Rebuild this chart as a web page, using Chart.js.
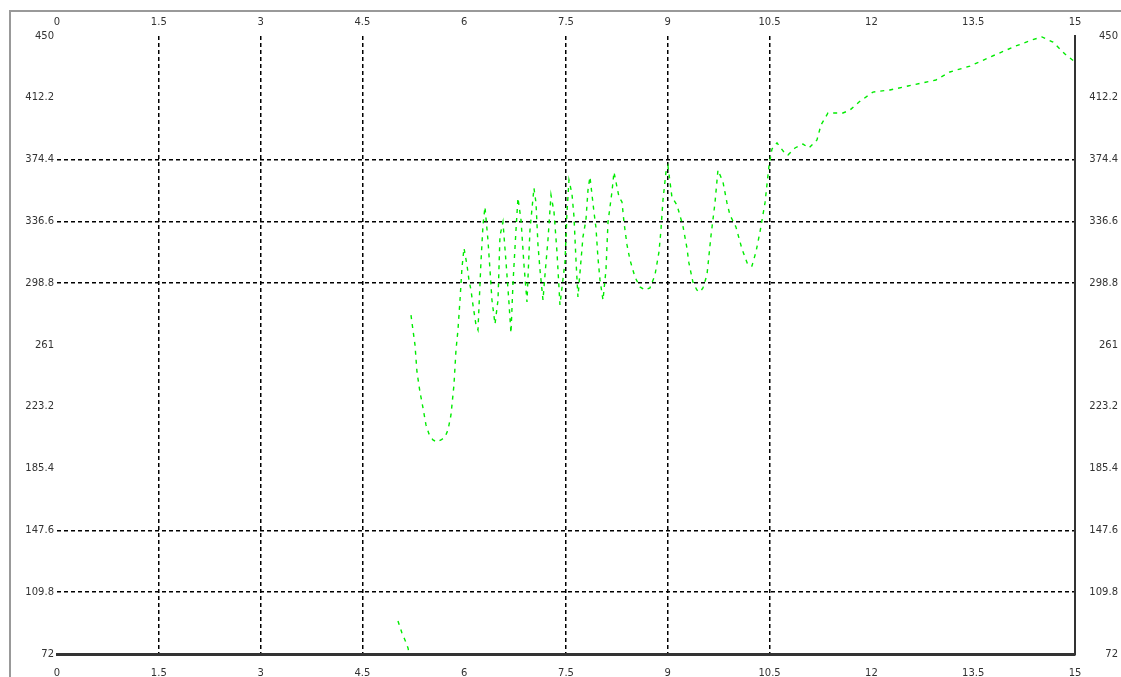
<!DOCTYPE html>
<html>
<head>
<meta charset="utf-8">
<script src="https://cdn.jsdelivr.net/npm/chart.js@4"></script>
<style>
  body { margin: 0; background: #fff; }
  #frame { position: absolute; left: 9px; top: 10px; width: 1112px; height: 667px;
           border-left: 2px solid #999; border-top: 2px solid #999; }
  #wrap { position: absolute; left: 0; top: 0; width: 1121px; height: 677px; }
</style>
</head>
<body>
<div id="frame"></div>
<div id="wrap"><canvas id="chart" width="1121" height="677"></canvas></div>
<script>
// tick labels
const xTicks = [0, 1.5, 3, 4.5, 6, 7.5, 9, 10.5, 12, 13.5, 15];
const yTicks = [72, 109.8, 147.6, 185.4, 223.2, 261, 298.8, 336.6, 374.4, 412.2, 450];
// only these grid lines are drawn in the original
const xGridOn = [1.5, 3, 4.5, 7.5, 9, 10.5];
const yGridOn = [109.8, 147.6, 298.8, 336.6, 374.4];

// signal (null = break in the trace)
const xs = [5.024, 5.083, 5.127, 5.172, 5.201, 5.21,
  5.216, 5.245, 5.275, 5.304, 5.348, 5.393, 5.437, 5.481, 5.540, 5.599, 5.658, 5.717, 5.761, 5.805,
  5.849, 5.879, 5.908, 5.938, 5.967, 5.997, 6.041, 6.070, 6.100, 6.129, 6.174, 6.203, 6.247, 6.277,
  6.306, 6.350, 6.380, 6.409, 6.454, 6.498, 6.527, 6.571, 6.616, 6.660, 6.689, 6.719, 6.763, 6.792,
  6.837, 6.881, 6.925, 6.969, 7.028, 7.058, 7.087, 7.117, 7.161, 7.190, 7.234, 7.279, 7.323, 7.367,
  7.411, 7.485, 7.514, 7.544, 7.588, 7.618, 7.647, 7.676, 7.750, 7.794, 7.824, 7.853, 7.912, 7.942,
  7.971, 8.001, 8.045, 8.089, 8.119, 8.177, 8.207, 8.281, 8.325, 8.354, 8.399, 8.443, 8.516, 8.590,
  8.664, 8.737, 8.811, 8.870, 8.899, 8.929, 8.973, 9.002, 9.061, 9.135, 9.223, 9.282, 9.311, 9.370,
  9.429, 9.474, 9.518, 9.577, 9.636, 9.695, 9.739, 9.813, 9.872, 9.916, 10.004, 10.093, 10.181, 10.240,
  10.299, 10.358, 10.432, 10.491, 10.535, 10.609, 10.712, 10.770, 10.874, 10.992, 11.080, 11.198, 11.257, 11.360,
  11.581, 11.684, 11.817, 12.023, 12.273, 12.539, 12.951, 13.157, 13.452, 13.820, 14.130, 14.366, 14.513, 14.675,
  14.852, 15.0];
const ys = [92.2, 84.8, 80.6, 75.7, 69.6, null,
  279.3, 270.2, 261.0, 244.5, 232.3, 222.5, 212.1, 206.6, 202.9, 201.7, 202.9, 204.7, 209.0, 218.2,
  236.5, 257.9, 270.2, 288.5, 308.1, 320.3, 309.9, 300.8, 294.6, 285.5, 273.2, 270.2, 311.8, 334.4,
  345.4, 325.2, 306.9, 288.5, 273.8, 288.5, 327.7, 336.2, 311.8, 286.7, 268.3, 298.9, 331.3, 350.9,
  337.5, 309.9, 287.3, 331.3, 357.0, 347.9, 322.2, 306.9, 288.5, 303.8, 325.2, 352.7, 342.4, 317.9,
  285.5, 311.8, 341.7, 361.9, 353.4, 339.3, 313.0, 290.4, 327.1, 337.5, 355.8, 363.8, 342.4, 332.6,
  314.2, 300.8, 288.5, 306.9, 336.2, 354.6, 366.8, 351.5, 348.5, 336.2, 322.2, 313.0, 302.6, 296.5,
  294.6, 295.9, 303.8, 317.9, 331.3, 349.7, 366.8, 370.5, 351.5, 346.6, 333.8, 320.3, 311.2, 299.5,
  294.6, 293.4, 295.9, 303.8, 327.7, 347.9, 368.0, 360.7, 347.9, 340.5, 333.2, 319.7, 309.9, 309.3,
  317.9, 330.1, 347.9, 370.5, 380.9, 384.6, 379.0, 377.2, 381.5, 383.9, 381.5, 386.4, 395.6, 402.9,
  402.9, 404.7, 409.6, 415.7, 417.0, 419.4, 423.1, 428.0, 431.6, 438.4, 443.9, 447.6, 449.4, 446.3,
  439.0, 434.1];

const tickFont = { family: 'DejaVu Sans', size: 10 };
const fmt = v => String(Math.round(v * 10) / 10);

new Chart(document.getElementById('chart').getContext('2d'), {
  type: 'line',
  data: {
    datasets: [{
      data: xs.map((x, i) => ({ x: x, y: ys[i] })),
      borderColor: 'rgb(0, 235, 0)',
      borderWidth: 1.4,
      borderDash: [4, 5],
      pointRadius: 0,
      tension: 0,
      fill: false
    }]
  },
  options: {
    responsive: false,
    animation: false,
    layout: { padding: { left: 0, right: 3, top: 0, bottom: 0 } },
    plugins: { legend: { display: false }, tooltip: { enabled: false } },
    scales: {
      x: {
        type: 'linear', position: 'bottom', min: 0, max: 15,
        afterBuildTicks: s => { s.ticks = xTicks.map(v => ({ value: v })); },
        afterFit: s => { s.height = 23; },
        ticks: { font: tickFont, color: '#333', padding: 13, maxRotation: 0, callback: fmt },
        grid: {
          drawTicks: false, lineWidth: 1.5,
          color: c => (c.tick && xGridOn.includes(c.tick.value)) ? '#000' : 'rgba(0,0,0,0)'
        },
        border: { display: true, color: '#333', width: 3, dash: [4, 3] }
      },
      x2: {
        type: 'linear', position: 'top', min: 0, max: 15,
        afterBuildTicks: s => { s.ticks = xTicks.map(v => ({ value: v })); },
        afterFit: s => { s.height = 36; },
        ticks: { font: tickFont, color: '#333', padding: 8, maxRotation: 0, callback: fmt },
        grid: { display: false, drawTicks: false },
        border: { display: false }
      },
      y: {
        type: 'linear', position: 'left', min: 72, max: 450,
        afterBuildTicks: s => { s.ticks = yTicks.map(v => ({ value: v })); },
        afterFit: s => { s.width = 57; },
        ticks: { font: tickFont, color: '#333', padding: 3, callback: fmt },
        grid: {
          drawTicks: false, lineWidth: 1.5,
          color: c => (c.tick && yGridOn.includes(c.tick.value)) ? '#000' : 'rgba(0,0,0,0)'
        },
        border: { display: false, dash: [4, 3] }
      },
      y2: {
        type: 'linear', position: 'right', min: 72, max: 450,
        afterBuildTicks: s => { s.ticks = yTicks.map(v => ({ value: v })); },
        afterFit: s => { s.width = 43; },
        ticks: { font: tickFont, color: '#333', padding: 3, crossAlign: 'far', callback: fmt },
        grid: { display: false, drawTicks: false },
        border: { display: true, color: '#333', width: 2 }
      }
    }
  }
});
</script>
</body>
</html>
